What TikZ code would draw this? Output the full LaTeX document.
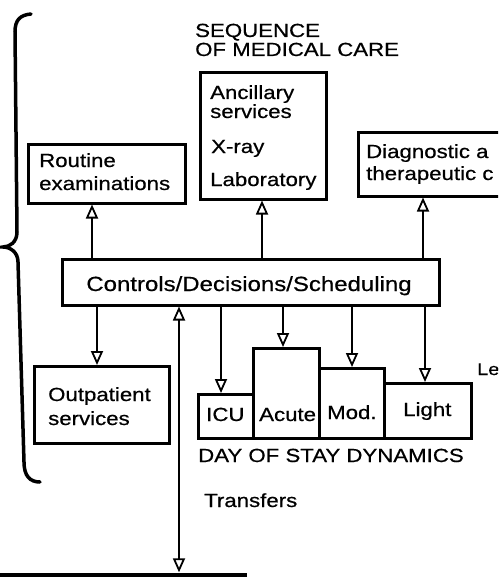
\documentclass[tikz,border=0pt]{standalone}
\usepackage{fontspec}
\setmainfont{Liberation Sans}[FakeStretch=1.17, FakeBold=0.6]
\usetikzlibrary{arrows.meta}
\tikzset{
  box/.style={draw, line width=2.5pt, inner sep=0pt, anchor=north west},
  txt/.style={inner sep=0pt, anchor=base west, font=\fontsize{19}{22}\selectfont},
  arr/.style={line width=2pt, -{Triangle[open, length=14pt, width=12pt, line width=1.8pt]}},
  darr/.style={line width=2pt, {Triangle[open, length=14pt, width=12pt, line width=1.8pt]}-{Triangle[open, length=14pt, width=12pt, line width=1.8pt]}}
}
\begin{document}
\begin{tikzpicture}[x=1pt,y=-1pt]
\useasboundingbox (0,0) rectangle (498,586);
\clip (0,0) rectangle (498,586);
\fill[white] (0,0) rectangle (498,586);

% brace
\draw[line width=3.5pt, line cap=round] (31,14) .. controls (20,15) and (15,20) .. (15,32)
  -- (17,232) .. controls (17,242) and (10,247) .. (3,247)
  .. controls (10,247) and (18,252) .. (18,262)
  -- (24,462) .. controls (24,476) and (30,482) .. (40,482);

% title
\node[txt] (t1) at (195,37) {SEQUENCE};
\node[txt] (t2) at (195,56) {OF MEDICAL CARE};

% boxes
\node[box, minimum width=157pt, minimum height=59pt] (routine) at (27,143) {};
\node[box, minimum width=126pt, minimum height=127pt] (anc) at (199,71) {};
\node[box, minimum width=170pt, minimum height=64pt] (diag) at (357,131) {};
\node[box, minimum width=377pt, minimum height=46pt] (ctrl) at (61,258) {};
\node[box, minimum width=135pt, minimum height=77pt] (outp) at (33,365) {};
\node[box, minimum width=55pt, minimum height=44pt] (icu) at (197,393) {};
\node[box, minimum width=66pt, minimum height=90pt] (acute) at (252,347) {};
\node[box, minimum width=65pt, minimum height=70pt] (mod) at (318,367) {};
\node[box, minimum width=87pt, minimum height=55pt] (light) at (383,382) {};
\node[fill, inner sep=0pt, minimum width=247pt, minimum height=4pt, anchor=west] (bar) at (0,574.5) {};

% texts
\node[txt] (r1) at (39,167) {Routine};
\node[txt] (r2) at (39,190) {examinations};
\node[txt] (a1) at (210,99) {Ancillary};
\node[txt] (a2) at (210,118) {services};
\node[txt] (a3) at (211,153) {X-ray};
\node[txt] (a4) at (210,186) {Laboratory};
\node[txt] (d1) at (366,158) {Diagnostic a};
\node[txt] (d2) at (366,180) {therapeutic c};
\node[txt, anchor=base, font=\fontsize{20.5}{24}\selectfont] (c1) at (249,291) {Controls/Decisions/Scheduling};
\node[txt] (o1) at (48,401) {Outpatient};
\node[txt] (o2) at (48,425) {services};
\node[txt] (i1) at (206,421) {ICU};
\node[txt] (ac1) at (259,421) {Acute};
\node[txt] (m1) at (327,419) {Mod.};
\node[txt] (l1) at (403,416) {Light};
\node[txt] (dy) at (198,462) {DAY OF STAY DYNAMICS};
\node[txt] (tr) at (204,507) {Transfers};
\node[txt, font=\fontsize{17}{20}\selectfont] (le) at (477,375) {Le};

% connectors
\draw[arr] ([xshift=31pt]ctrl.north west) -- ([xshift=65pt]routine.south west);
\draw[arr] ([xshift=201pt]ctrl.north west) -- ([xshift=63pt]anc.south west);
\draw[arr] ([xshift=362pt]ctrl.north west) -- ([xshift=66pt]diag.south west);
\draw[arr] ([xshift=36pt]ctrl.south west) -- ([xshift=64pt]outp.north west);
\draw[arr] ([xshift=160pt]ctrl.south west) -- ([xshift=24pt]icu.north west);
\draw[arr] ([xshift=222pt]ctrl.south west) -- ([xshift=31pt]acute.north west);
\draw[arr] ([xshift=291pt]ctrl.south west) -- ([xshift=34pt]mod.north west);
\draw[arr] ([xshift=364pt]ctrl.south west) -- ([xshift=42pt]light.north west);
\draw[darr] ([xshift=118pt]ctrl.south west) -- ([xshift=179pt]bar.north west);
\end{tikzpicture}
\end{document}
